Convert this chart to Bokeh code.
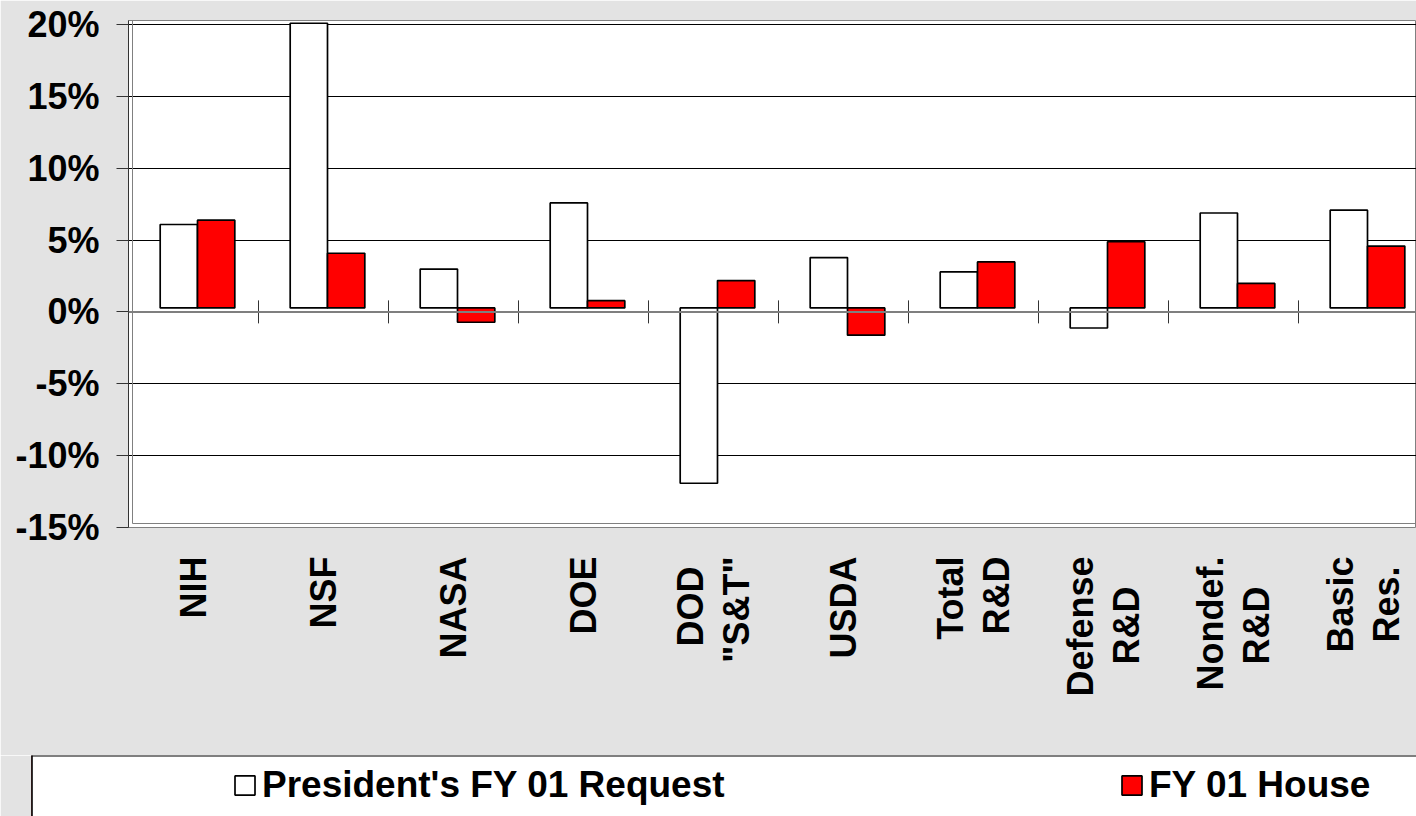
import numpy as np
from bokeh.plotting import figure
from bokeh.models import (Range1d, FixedTicker, Span, Legend, LegendItem,
                          ColumnDataSource)
from bokeh.layouts import column
from bokeh.embed import file_html
from bokeh.resources import INLINE

# ---------------- data ----------------
categories = ["NIH", "NSF", "NASA", "DOE", 'DOD\n"S&T"', "USDA",
              "Total\nR&D", "Defense\nR&D", "Nondef.\nR&D", "Basic\nRes."]
president_request = [5.8, 19.8, 2.7, 7.3, -12.2, 3.5, 2.5, -1.4, 6.6, 6.8]
fy01_house = [6.1, 3.8, -1.0, 0.5, 1.9, -1.9, 3.2, 4.6, 1.7, 4.3]
y_ticks = [-15, -10, -5, 0, 5, 10, 15, 20]
y_tick_labels = ["-15%", "-10%", "-5%", "0%", "5%", "10%", "15%", "20%"]
series_names = ["President's FY 01 Request", "FY 01 House"]

# ---------------- style ----------------
BG = "#e3e3e3"
FONT = "Liberation Sans"
W = 1416
H_MAIN = 755
H_LEG = 816 - H_MAIN
LEFT = 128
TOP = 20
BOTTOM = 228
CAT_PX = 130
SHIFT_PX = 4
# non-breaking spaces appended to the shorter line so two-line labels look centred
LINE_PAD = {4: 1, 7: 3, 8: 3, 9: 1}


def centred(label, k):
    lines = label.split("\n")
    if len(lines) < 2 or k == 0:
        return label
    i = min(range(len(lines)), key=lambda j: len(lines[j]))
    lines[i] = lines[i] + "\u00a0" * k
    return "\n".join(lines)


n = len(categories)
centers = np.arange(n) + 0.5
bar_w = 0.287
x_end = (W - LEFT) / CAT_PX
y_lo, y_hi = y_ticks[0], y_ticks[-1] + 0.27
px_per_unit = (H_MAIN - TOP - BOTTOM) / (y_hi - y_lo)
dx = SHIFT_PX / CAT_PX
dy = SHIFT_PX / px_per_unit

p = figure(width=W, height=H_MAIN, x_range=Range1d(0, x_end),
           y_range=Range1d(y_lo, y_hi), output_backend="svg",
           toolbar_location=None, min_border_left=LEFT, min_border_right=0,
           min_border_top=TOP, min_border_bottom=BOTTOM,
           background_fill_color="white", border_fill_color=BG,
           outline_line_color="#808080", outline_line_width=1)
p.frame_align = False
p.extra_x_ranges = {"bars": Range1d(-dx, x_end - dx)}
p.extra_y_ranges = {"bars": Range1d(y_lo - dy, y_hi - dy)}

# x axis (category labels)
xa = p.xaxis[0]
xa.ticker = FixedTicker(ticks=list(centers))
xa.major_label_overrides = {float(c): centred(lab, LINE_PAD.get(i, 0))
                            for i, (c, lab) in enumerate(zip(centers, categories))}
xa.major_tick_out = 0
xa.major_tick_in = 0
xa.minor_tick_out = 0
xa.minor_tick_in = 0
xa.axis_line_color = None
xa.major_label_orientation = np.pi / 2
xa.major_label_standoff = 29
xa.major_label_text_font = FONT
xa.major_label_text_font_style = "bold"
xa.major_label_text_font_size = "36px"
xa.major_label_text_color = "black"
xa.major_label_text_line_height = 1.12

# y axis
ya = p.yaxis[0]
ya.ticker = FixedTicker(ticks=y_ticks)
ya.major_label_overrides = {t: lab for t, lab in zip(y_ticks, y_tick_labels)}
ya.major_tick_out = 12
ya.major_tick_in = 0
ya.minor_tick_out = 0
ya.minor_tick_in = 0
ya.major_tick_line_color = "#333333"
ya.axis_line_color = "#333333"
ya.major_label_standoff = 17
ya.major_label_text_font = FONT
ya.major_label_text_font_style = "bold"
ya.major_label_text_font_size = "36px"
ya.major_label_text_color = "black"

p.xgrid.visible = False
p.ygrid.ticker = FixedTicker(ticks=y_ticks)
p.ygrid.grid_line_color = "black"
p.ygrid.grid_line_width = 1

# inner (offset) plot-area border
p.quad(left=0, right=x_end, bottom=y_lo, top=y_hi, fill_color=None,
       line_color="#808080", line_width=1,
       x_range_name="bars", y_range_name="bars")

# zero line and category separators
p.add_layout(Span(location=0, dimension="width", line_color="#7f7f7f",
                  line_width=2))
bounds = np.arange(1, n)
p.segment(x0=bounds, x1=bounds, y0=-0.8, y1=0.8, line_color="#333333",
          line_width=1)

src = ColumnDataSource(dict(xw=centers - bar_w / 2, xr=centers + bar_w / 2,
                            pres=president_request, house=fy01_house))
p.vbar(x="xw", top="pres", bottom=0, width=bar_w, source=src,
       fill_color="white", line_color="black", line_width=1.7,
       x_range_name="bars", y_range_name="bars")
p.vbar(x="xr", top="house", bottom=0, width=bar_w, source=src,
       fill_color="#ff0000", line_color="black", line_width=1.7,
       x_range_name="bars", y_range_name="bars")

# ---------------- legend strip ----------------
lg = figure(width=W, height=H_LEG, x_range=Range1d(0, 1), y_range=Range1d(0, 1),
            output_backend="svg", toolbar_location=None,
            x_axis_location=None, y_axis_location=None,
            min_border_left=31, min_border_right=0, min_border_top=0,
            min_border_bottom=0, background_fill_color="white",
            border_fill_color=BG, outline_line_color=None)
lg.frame_align = False
lg.grid.visible = False
lg.add_layout(Span(location=0, dimension="height", line_color="black", line_width=2))
lg.add_layout(Span(location=1, dimension="width", line_color="black", line_width=2))
# swatch renderers kept outside the visible range; they only feed the legend
lr1 = lg.vbar(x=[-5], top=[1], width=1, fill_color="white", line_color="black",
              line_width=1.7)
lr2 = lg.vbar(x=[-5], top=[1], width=1, fill_color="#ff0000", line_color="black",
              line_width=1.7)
legend = Legend(items=[LegendItem(label=series_names[0], renderers=[lr1]),
                       LegendItem(label=series_names[1], renderers=[lr2])],
                location=(201, 5), orientation="horizontal",
                glyph_width=25, glyph_height=24, label_standoff=5,
                label_width=857, label_height=53, spacing=0, padding=0,
                margin=0, border_line_color=None, background_fill_alpha=0,
                label_text_font=FONT, label_text_font_style="bold",
                label_text_font_size="37px", label_text_color="black",
                label_text_baseline="middle")
lg.add_layout(legend)

layout = column(p, lg, spacing=0)
open("out.html", "w").write(file_html(layout, INLINE))
